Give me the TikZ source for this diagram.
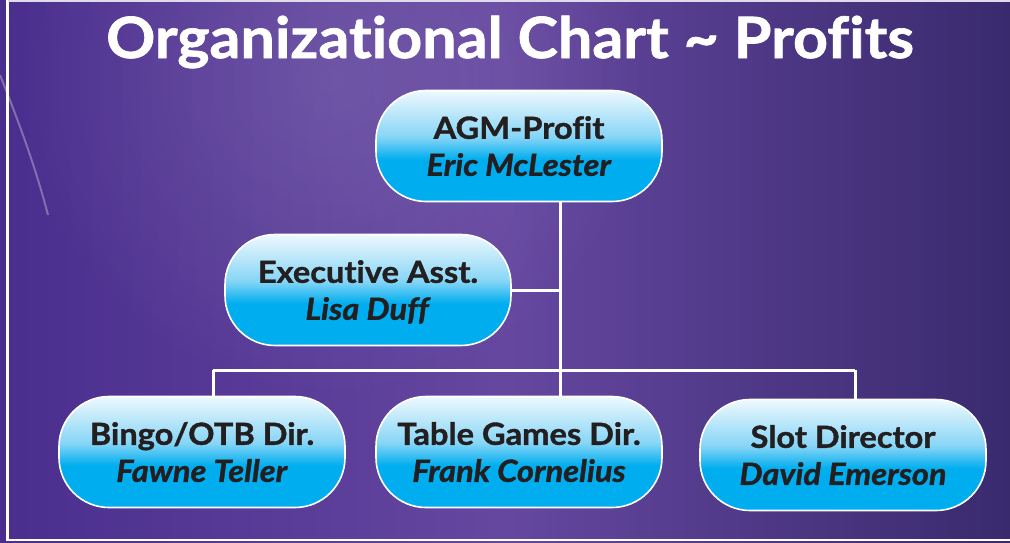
\documentclass[tikz,border=0pt]{standalone}
\usepackage{fontspec}
\setmainfont{Lato}[Ligatures={NoCommon,NoRare}, FakeStretch=1.07, BoldFeatures={FakeBold=1.2}, BoldItalicFeatures={FakeBold=1.2}]
\usetikzlibrary{fadings}
\definecolor{bgL}{HTML}{4A2E8E}
\definecolor{bgM}{HTML}{6547A0}
\definecolor{bgR}{HTML}{392A6E}
\definecolor{cyanB}{HTML}{00AEEF}
\definecolor{midB}{HTML}{86D5F6}
\definecolor{topW}{HTML}{EEF9FE}
\definecolor{ink}{HTML}{231F20}
\pgfdeclareverticalshading{boxshade}{100bp}{color(0bp)=(cyanB); color(25bp)=(cyanB); color(44bp)=(cyanB); color(54bp)=(midB); color(75bp)=(topW); color(100bp)=(topW)}
\tikzfading[name=softglow, inner color=transparent!70, outer color=transparent!100]
\tikzset{
  orgbox/.style={draw=white, line width=1.6pt, shading=boxshade, rounded corners=50pt,
    minimum width=286pt, minimum height=111pt, align=center, text=ink,
    font=\fontsize{30.5}{37}\selectfont\bfseries, inner sep=0pt, text depth=-5pt},
  conn/.style={draw=white, line width=3pt},
}
\begin{document}
\begin{tikzpicture}[x=1pt,y=-1pt]
\useasboundingbox (0,0) rectangle (1010,543);
\shade[left color=bgL, right color=bgR, middle color=bgM] (0,0) rectangle (1010,543);
\fill[white, opacity=0.4, path fading=softglow] (330,80) circle (320);
\draw[white, opacity=0.3, line width=2pt] (0,75) .. controls (18,120) and (35,165) .. (48,215);
\draw[white, line width=2.5pt] (1010,1) -- (7.5,1) -- (7.5,540) -- (1010,540);
\draw[white!80!bgM, line width=1.2pt] (8,1) -- (1010,1);

\node[text=white, font=\fontsize{57}{60}\selectfont\bfseries] (title) at (510,42) {Organizational Chart \textasciitilde{} Profits};

\node[orgbox] (agm) at (519,146) {AGM-Profit\\\textit{Eric McLester}};
\node[orgbox] (exec) at (368,290) {Executive Asst.\\\textit{Lisa Duff}};
\node[orgbox] (bingo) at (202,452) {Bingo/OTB Dir.\\\textit{Fawne Teller}};
\node[orgbox] (table) at (519,452) {Table Games Dir.\\\textit{Frank Cornelius}};
\node[orgbox] (slot) at (843,455) {Slot Director\\\textit{David Emerson}};

\coordinate (trunk) at (560,370);
\coordinate (db) at (213,370);
\coordinate (ds) at (855,370);
\draw[conn] (agm.south -| trunk) -- (table.north -| trunk);
\draw[conn] (exec.east) -- (exec.east -| trunk);
\draw[conn] (db) -- (ds);
\draw[conn] (db) -- (db |- bingo.north);
\draw[conn] (ds) -- (ds |- slot.north);
\end{tikzpicture}
\end{document}
